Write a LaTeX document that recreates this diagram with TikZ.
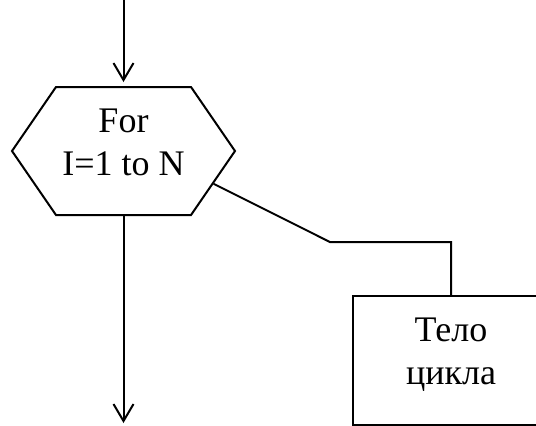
\documentclass[tikz,border=0pt]{standalone}
\usepackage{fontspec}
\setmainfont{Liberation Serif}
\usetikzlibrary{arrows.meta,shapes.symbols}

\begin{document}
\begin{tikzpicture}[
    x=0.5pt, y=-0.5pt,
    line width=1pt,
    hexa/.style={signal, signal to=west and east, signal pointer angle=111, draw, minimum width=111.5pt, minimum height=64pt, inner sep=0pt},
    box/.style={rectangle, minimum width=97pt, minimum height=63.5pt},
    txt/.style={align=center, font=\fontsize{18}{21.5}\selectfont},
    arrow/.style={-{Straight Barb[length=8.5pt,width=10pt]}}
]
    \useasboundingbox (0,0) rectangle (536,425);
    \clip (0,0) rectangle (536,425);

    % Loop header
    \node[hexa] (loop) at (123.5,151) {};
    \node[txt] (looptext) at (123.5,142) {For\\I=1 to N};

    % Loop body (runs past the right edge)
    \node[box] (body) at (451,360.5) {};
    \draw (body.north east) -| (body.south west) -- (body.south east);
    \node[txt] (bodytext) at (451,355) {Тело\\цикла};

    % Free ends
    \coordinate (in) at (123.5,0);
    \coordinate (out) at (123.5,423);
    \coordinate (bend) at (330,242);

    % Arrows
    \draw[arrow, shorten >=2pt] (in) -- (loop.north);
    \draw[arrow] (loop.south) -- (out);
    \draw (loop.-20.5) -- (bend) -| (body.north);
\end{tikzpicture}
\end{document}
